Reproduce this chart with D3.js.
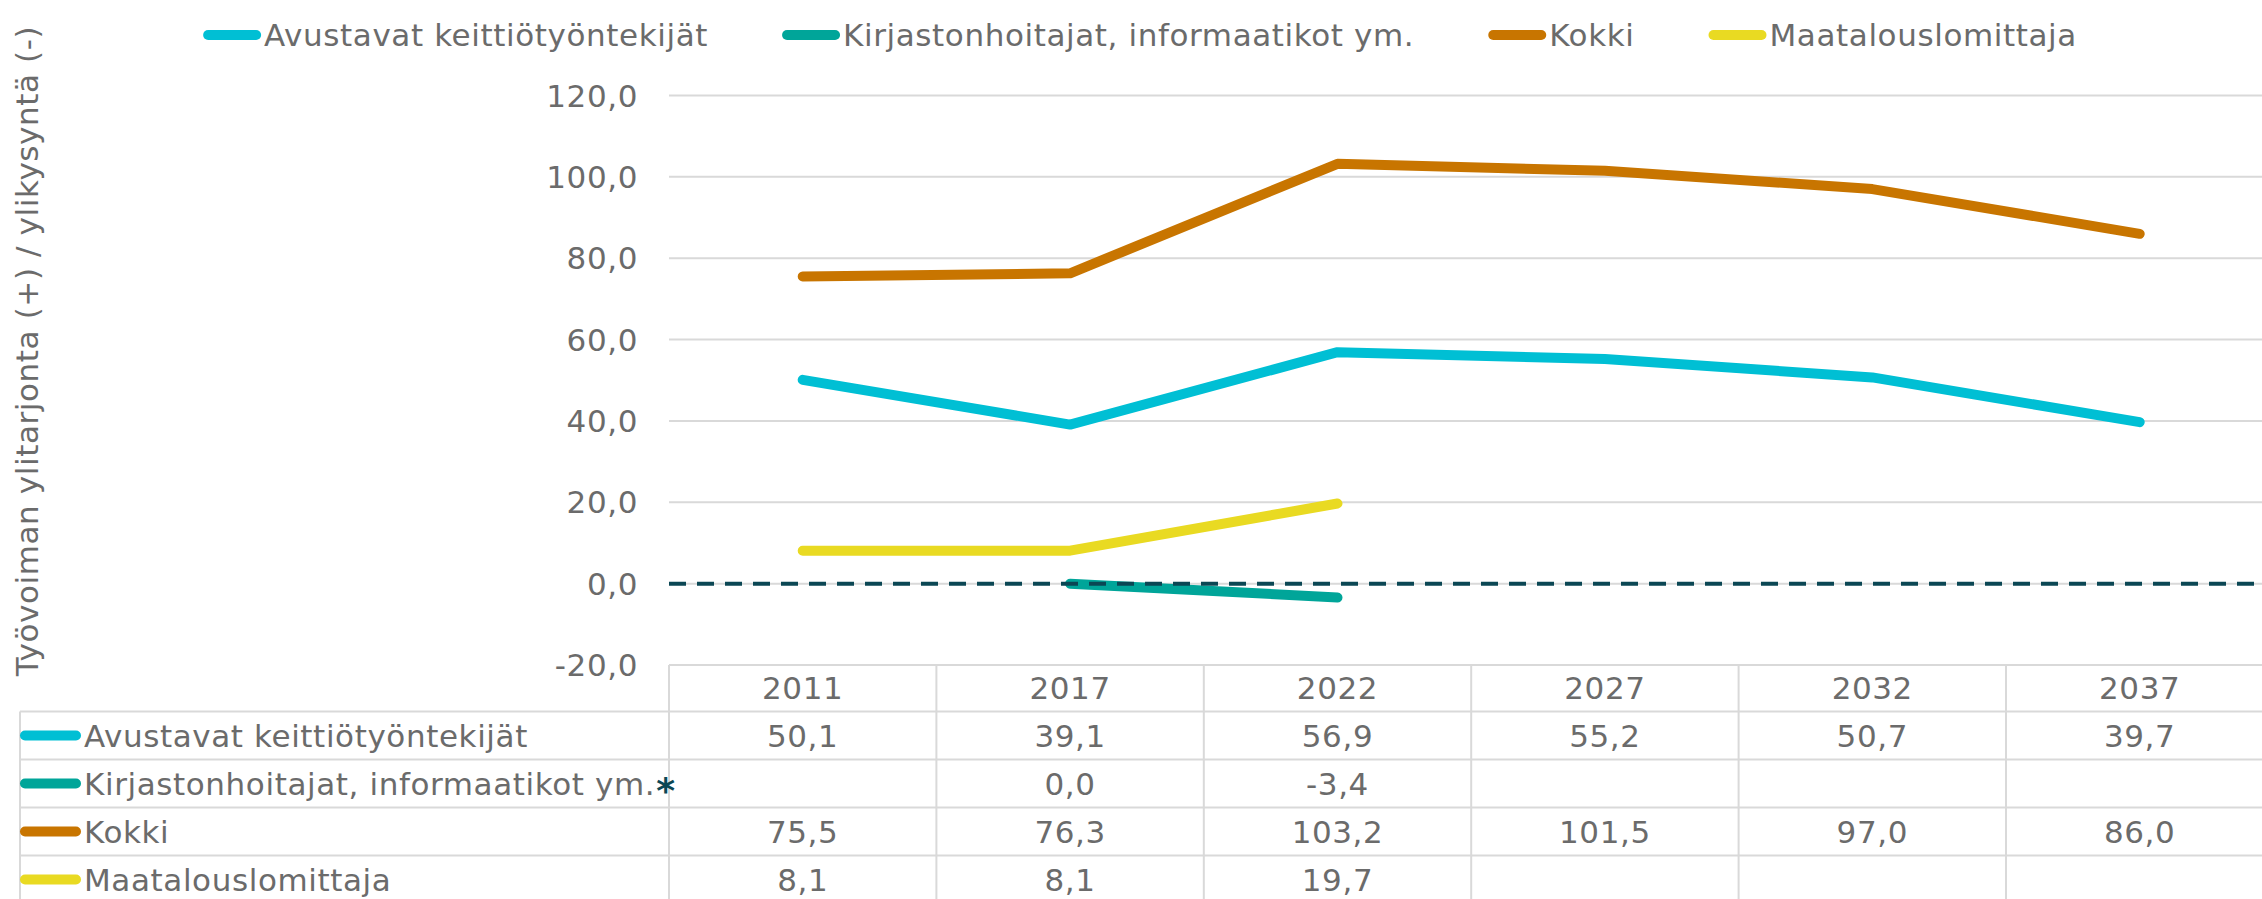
<!DOCTYPE html>
<html>
<head>
<meta charset="utf-8">
<script src="https://cdn.jsdelivr.net/npm/d3@7"></script>
<style>
  body { margin: 0; background: #fff; }
  text { font-family: "DejaVu Sans", Verdana, sans-serif; fill: #6b6b6b; letter-spacing: 0.6px; }
</style>
</head>
<body>
<svg id="chart" width="2262" height="899"></svg>
<script>
// data
var years = ['2011', '2017', '2022', '2027', '2032', '2037'];
var seriesNames = ['Avustavat keittiötyöntekijät', 'Kirjastonhoitajat, informaatikot ym.', 'Kokki', 'Maatalouslomittaja'];
var avustavat = [50.1, 39.1, 56.9, 55.2, 50.7, 39.7];
var kirjasto = [null, 0.0, -3.4, null, null, null];
var kokki = [75.5, 76.3, 103.2, 101.5, 97.0, 86.0];
var maatalous = [8.1, 8.1, 19.7, null, null, null];
var yTicks = [-20, 0, 20, 40, 60, 80, 100, 120];
var colors = ['#00bfd4', '#00a599', '#c87500', '#e9da22'];

var values = [avustavat, kirjasto, kokki, maatalous];
var W = 2262, H = 899;
var fontSize = 31;
var svg = d3.select('#chart');

var fi = d3.formatLocale({decimal: ',', thousands: ' ', grouping: [3], currency: ['', '']});
var fmt = fi.format('.1f');
function fmtNum(v) { return fmt(v).replace('−', '-'); }

var x = d3.scaleBand().domain(years).range([669, 669 + 6 * 267.4]).padding(0);
var y = d3.scaleLinear().domain([-20, 120]).range([665, 95.5]);
var cx = function (yr) { return x(yr) + x.bandwidth() / 2; };

// gridlines
svg.append('g').selectAll('line')
  .data(yTicks).enter().append('line')
    .attr('x1', 669).attr('x2', W)
    .attr('y1', function (d) { return y(d); })
    .attr('y2', function (d) { return y(d); })
    .attr('stroke', '#d9d9d9').attr('stroke-width', 2);

// y axis labels
svg.append('g').selectAll('text')
  .data(yTicks).enter().append('text')
    .attr('x', 638)
    .attr('y', function (d) { return y(d); })
    .attr('dy', '0.36em')
    .attr('text-anchor', 'end')
    .style('font-size', fontSize + 'px')
    .text(function (d) { return fmtNum(d); });

// y title
svg.append('text')
  .attr('transform', 'translate(38,351) rotate(-90)')
  .attr('text-anchor', 'middle')
  .style('font-size', fontSize + 'px')
  .text('Työvoiman ylitarjonta (+) / ylikysyntä (-)');

// lines
var line = d3.line()
  .defined(function (d) { return d.v != null; })
  .x(function (d) { return cx(d.yr); })
  .y(function (d) { return y(d.v); });

var drawOrder = [3, 2, 1, 0];
drawOrder.forEach(function (i) {
  var pts = years.map(function (yr, j) { return {yr: yr, v: values[i][j]}; });
  svg.append('path')
    .datum(pts)
    .attr('d', line)
    .attr('fill', 'none')
    .attr('stroke', colors[i])
    .attr('stroke-width', 10)
    .attr('stroke-linecap', 'round')
    .attr('stroke-linejoin', 'round');
});

// zero reference line
svg.append('line')
  .attr('x1', 669).attr('x2', W)
  .attr('y1', y(0)).attr('y2', y(0))
  .attr('stroke', '#0b4754').attr('stroke-width', 4)
  .attr('stroke-dasharray', '17,11');

// legend
var legend = svg.append('g');
var lx = 0, gap = 74;
seriesNames.forEach(function (name, i) {
  var g = legend.append('g').attr('transform', 'translate(' + lx + ',0)');
  g.append('line').attr('x1', 5).attr('x2', 53).attr('y1', 35).attr('y2', 35)
    .attr('stroke', colors[i]).attr('stroke-width', 10).attr('stroke-linecap', 'round');
  var t = g.append('text').attr('x', 61).attr('y', 35).attr('dy', '0.36em')
    .style('font-size', fontSize + 'px').text(name);
  lx += 61 + t.node().getComputedTextLength() + gap;
});
var legW = lx - gap;
legend.attr('transform', 'translate(' + (1140 - legW / 2) + ',0)');

// data table
var rowTops = [711.5, 759.5, 807.5, 855.5];
var rowH = 48;
var tbl = svg.append('g');
// horizontal borders
tbl.append('line').attr('x1', 669).attr('x2', W).attr('y1', 665).attr('y2', 665)
  .attr('stroke', '#d9d9d9').attr('stroke-width', 2);
rowTops.forEach(function (t) {
  tbl.append('line').attr('x1', 20).attr('x2', W).attr('y1', t).attr('y2', t)
    .attr('stroke', '#d9d9d9').attr('stroke-width', 2);
});
// vertical borders
years.forEach(function (yr) {
  tbl.append('line').attr('x1', x(yr)).attr('x2', x(yr)).attr('y1', 665).attr('y2', H)
    .attr('stroke', '#d9d9d9').attr('stroke-width', 2);
});
tbl.append('line').attr('x1', 20).attr('x2', 20).attr('y1', 711.5).attr('y2', H)
  .attr('stroke', '#d9d9d9').attr('stroke-width', 2);

// header
tbl.selectAll('text.yr').data(years).enter().append('text')
  .attr('class', 'yr')
  .attr('x', function (d) { return cx(d); })
  .attr('y', 688).attr('dy', '0.36em')
  .attr('text-anchor', 'middle')
  .style('font-size', fontSize + 'px')
  .text(function (d) { return d; });

seriesNames.forEach(function (name, i) {
  var my = rowTops[i] + rowH / 2;
  tbl.append('line').attr('x1', 25).attr('x2', 76).attr('y1', my).attr('y2', my)
    .attr('stroke', colors[i]).attr('stroke-width', 10).attr('stroke-linecap', 'round');
  tbl.append('text').attr('x', 84).attr('y', my).attr('dy', '0.36em')
    .style('font-size', fontSize + 'px').text(name);
  years.forEach(function (yr, j) {
    var v = values[i][j];
    if (v == null) return;
    tbl.append('text').attr('x', cx(yr)).attr('y', my).attr('dy', '0.36em')
      .attr('text-anchor', 'middle')
      .style('font-size', fontSize + 'px')
      .text(fmtNum(v));
  });
});

// asterisk note on the library row
tbl.append('text').attr('x', 666).attr('y', rowTops[1] + rowH / 2).attr('dy', '0.55em')
  .attr('text-anchor', 'middle')
  .style('font-size', '36px').style('font-weight', 'bold').style('fill', '#0b4754')
  .text('*');
</script>
</body>
</html>
